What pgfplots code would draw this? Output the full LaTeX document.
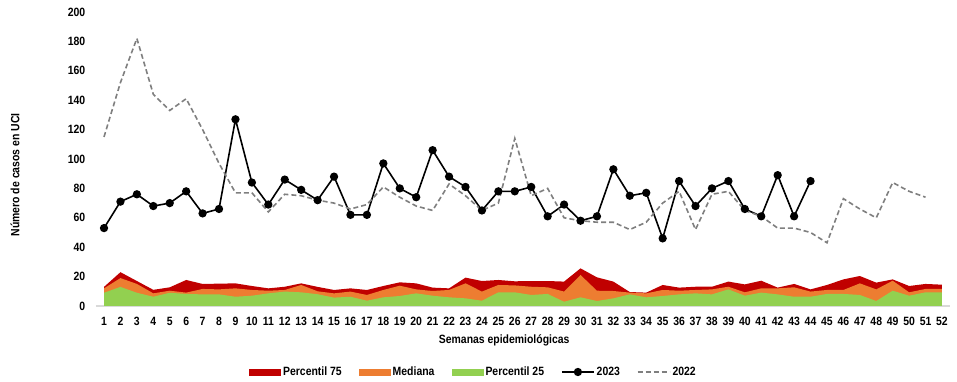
\documentclass[border=0pt]{standalone}
\usepackage{fontspec}
\setmainfont{Liberation Sans}[FakeStretch=0.87]
\usepackage{pgfplots}
\usepackage{pgfplotstable}
\pgfplotsset{compat=1.18}
\definecolor{cP75}{HTML}{C00000}
\definecolor{cMed}{HTML}{ED7D31}
\definecolor{cP25}{HTML}{92D050}
\definecolor{c22}{HTML}{7F7F7F}
\pgfplotsset{
  barlegend/.style={legend image code/.code={\fill[#1] (0pt,-3.5pt) rectangle (32pt,3.5pt);}},
  marklegend/.style={legend image code/.code={\draw[mark repeat=2,mark phase=2,#1] plot coordinates {(0pt,0pt)(16pt,0pt)(32pt,0pt)};}},
  dashlegend/.style={legend image code/.code={\draw[#1] (0pt,0pt) -- (32pt,0pt);}},
}
\pgfplotstableread{
week p75 med p25 y23 y22
1 13 12 9 53 115
2 23 19 13 71 152
3 17 15 9 76 182
4 11 8.6 6.3 68 144
5 12.7 10.4 9 70 133
6 17.7 9.1 8.2 78 141
7 15 11.6 7.9 63 120
8 15.2 11.3 7.9 66 97
9 15.4 12 6.3 127 77
10 13.6 10.9 7 84 77
11 12 10.4 8.6 69 64
12 13.1 10.9 9.8 86 76
13 15.4 14.3 9.3 79 75
14 13 10 8 72 72
15 10.9 8.6 5.7 88 70
16 12 9.8 6.3 62 66
17 10.9 7.5 3.6 62 69
18 13.6 10.9 5.9 97 81
19 16.1 13.8 6.8 80 74
20 15.4 11.3 8.6 74 68
21 12.5 10.2 7 106 65
22 12 10.9 5.9 88 83
23 19.3 15.4 5.2 81 75
24 17 9.8 3.6 65 65
25 17.7 14.3 9.3 78 70
26 16.8 14 9.3 78 114
27 17 13.1 7.5 81 75
28 17 12.7 8.2 61 80
29 16.6 9.8 2.9 69 60
30 25.6 21.1 5.9 58 58
31 19.5 10.4 3.4 61 57
32 16.6 10.2 5.2 93 57
33 9.5 9.1 7.9 75 52
34 9.1 8.6 5.9 77 57
35 14.3 10.9 6.8 46 70
36 12.5 10.4 7.9 85 78
37 13.1 10.9 8.6 68 52
38 13.1 11.3 7.9 80 76
39 16.6 13.1 11.3 85 78
40 14.7 9.3 7 66 65
41 17.2 12 9.1 61 61
42 12.5 12 7.9 89 53
43 15 12.7 6.3 61 53
44 11.3 9.8 6.3 85 50
45 14.3 10.9 8.2 nan 43
46 18.1 10.9 8.2 nan 73
47 20.4 15.4 7.5 nan 66
48 15.9 11.3 3.4 nan 60
49 18.1 17.2 10.4 nan 84
50 13.6 9.3 7 nan 78
51 15 11.6 9.3 nan 74
52 14.5 11.6 9.3 nan nan
}\datatable
\begin{document}
\begin{tikzpicture}
\path[use as bounding box] (-95.8pt,-76pt) rectangle (861.2pt,306pt);
\begin{axis}[
  at={(0pt,0pt)}, anchor=south west,
  scale only axis, width=854.4pt, height=294pt,
  xmin=0.5, xmax=52.5, ymin=0, ymax=200,
  xtick={1,...,52}, ytick={0,20,...,200},
  major tick length=0pt,
  axis x line*=bottom, axis y line*=left,
  x axis line style={draw=black!15, line width=1.2pt},
  y axis line style={draw=none},
  /pgf/number format/assume math mode=true,
  tick label style={font=\bfseries\fontsize{12}{14}\selectfont},
  xticklabel style={yshift=-8pt},
  yticklabel style={xshift=-7pt},
  label style={font=\bfseries\fontsize{12}{14}\selectfont},
  xlabel={Semanas epidemiológicas},
  ylabel={Número de casos en UCI},
  xlabel style={at={(axis description cs:0.478,-0.1156)}, anchor=center},
  ylabel style={at={(axis description cs:-0.0946,0.446)}, anchor=center},
  legend columns=5,
  legend style={at={(axis description cs:0.442,-0.2245)}, anchor=center, draw=none,
    font=\bfseries\fontsize{12}{14}\selectfont,
    /tikz/every even column/.append style={column sep=15pt}},
]
\addplot[draw=none, fill=cP75, barlegend] table[x=week,y=p75] {\datatable} \closedcycle;
\addlegendentry{Percentil 75}
\addplot[draw=none, fill=cMed, barlegend] table[x=week,y=med] {\datatable} \closedcycle;
\addlegendentry{Mediana}
\addplot[draw=none, fill=cP25, barlegend] table[x=week,y=p25] {\datatable} \closedcycle;
\addlegendentry{Percentil 25}
\addplot[black, line width=1.6pt, mark=*, mark size=3.3pt, mark options={solid}, marklegend]
  table[x=week,y=y23] {\datatable};
\addlegendentry{2023}
\addplot[c22, line width=1.6pt, dash pattern=on 5pt off 3pt, dashlegend]
  table[x=week,y=y22] {\datatable};
\addlegendentry{2022}
\end{axis}
\end{tikzpicture}
\end{document}
